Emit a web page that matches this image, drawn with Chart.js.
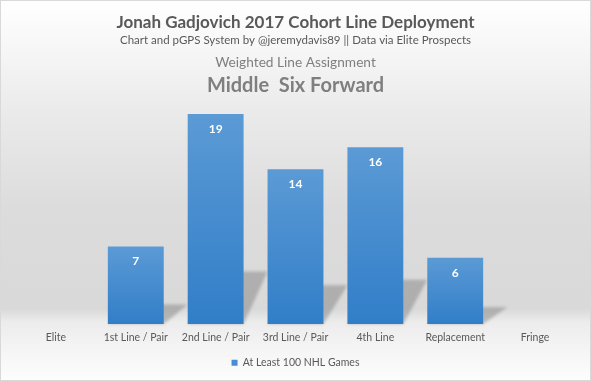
<!DOCTYPE html>
<html>
<head>
<meta charset="utf-8">
<script src="https://cdn.jsdelivr.net/npm/chart.js@4/dist/chart.umd.min.js"></script>
<style>
html,body{margin:0;padding:0;background:#fff;}
#wrap{width:591px;height:381px;position:relative;}
</style>
</head>
<body>
<div id="wrap"><canvas id="c" width="591" height="381"></canvas></div>
<script>
const categories = ["Elite", "1st Line / Pair", "2nd Line / Pair", "3rd Line / Pair", "4th Line", "Replacement", "Fringe"];
const values = [0, 7, 19, 14, 16, 6, 0];
const seriesName = "At Least 100 NHL Games";
const titleLines = [
  "Jonah Gadjovich 2017 Cohort Line Deployment",
  "Chart and pGPS System by @jeremydavis89 || Data via Elite Prospects",
  "Weighted Line Assignment",
  "Middle  Six Forward"
];

const FONT = "Lato, 'Open Sans', sans-serif";

const bgPlugin = {
  id: 'bg',
  beforeDraw(chart) {
    const ctx = chart.ctx, W = chart.width, H = chart.height;
    ctx.save();
    const g = ctx.createLinearGradient(0, 0, 0, H);
    g.addColorStop(0, '#ffffff');
    g.addColorStop(0.12, '#f7f7f7');
    g.addColorStop(0.30, '#eaeaea');
    g.addColorStop(0.55, '#dcdcdc');
    g.addColorStop(0.81, '#d9d9d9');
    g.addColorStop(0.845, '#ececec');
    g.addColorStop(0.92, '#f5f5f5');
    g.addColorStop(1, '#fdfdfd');
    ctx.fillStyle = g;
    ctx.fillRect(0, 0, W, H);
    ctx.strokeStyle = '#d9d9d9';
    ctx.lineWidth = 1;
    ctx.strokeRect(0.5, 0.5, W - 1, H - 1);
    // titles
    ctx.textAlign = 'center';
    ctx.textBaseline = 'alphabetic';
    const cx = W / 2;
    ctx.fillStyle = '#595959';
    ctx.font = "bold 17px " + FONT;
    ctx.fillText(titleLines[0], cx, 28);
    ctx.font = "11.5px " + FONT;
    ctx.fillText(titleLines[1], cx, 44);
    ctx.fillStyle = '#7f7f7f';
    ctx.font = "13.7px " + FONT;
    ctx.fillText(titleLines[2], cx, 67);
    ctx.font = "bold 20px " + FONT;
    ctx.fillText(titleLines[3], cx, 92);
    ctx.restore();
  }
};

const shadowPlugin = {
  id: 'barShadow',
  beforeDatasetsDraw(chart) {
    const ctx = chart.ctx;
    const meta = chart.getDatasetMeta(0);
    ctx.save();
    ctx.filter = 'blur(1.5px)';
    ctx.fillStyle = 'rgba(110,110,110,0.4)';
    meta.data.forEach((bar) => {
      const h = bar.base - bar.y;
      if (h <= 0) return;
      const l = bar.x - bar.width / 2, r = bar.x + bar.width / 2;
      const dx = 24, dy = 0.25 * h;
      ctx.beginPath();
      ctx.moveTo(l, bar.base);
      ctx.lineTo(r, bar.base);
      ctx.lineTo(r + dx, bar.base - dy);
      ctx.lineTo(l + dx, bar.base - dy);
      ctx.closePath();
      ctx.fill();
    });
    ctx.restore();
  }
};

const labelPlugin = {
  id: 'barLabels',
  afterDatasetsDraw(chart) {
    const ctx = chart.ctx;
    const meta = chart.getDatasetMeta(0);
    ctx.save();
    ctx.fillStyle = '#ffffff';
    ctx.font = "bold 12px " + FONT;
    ctx.textAlign = 'center';
    ctx.textBaseline = 'middle';
    meta.data.forEach((bar, i) => {
      if (!values[i]) return;
      ctx.fillText(String(values[i]), bar.x, bar.y + 15);
    });
    ctx.restore();
  }
};

function barGradient(context) {
  const chart = context.chart;
  const y = chart.scales && chart.scales.y;
  if (!chart.chartArea || !y || context.dataIndex === undefined) return '#4a8dd0';
  const v = values[context.dataIndex];
  const top = y.getPixelForValue(v), bottom = y.getPixelForValue(0);
  if (!(bottom > top)) return '#4a8dd0';
  const g = chart.ctx.createLinearGradient(0, top, 0, bottom);
  g.addColorStop(0, '#5b9ad5');
  g.addColorStop(1, '#317ec8');
  return g;
}

new Chart(document.getElementById('c'), {
  type: 'bar',
  data: {
    labels: categories,
    datasets: [{
      label: seriesName,
      data: values,
      backgroundColor: barGradient,
      borderWidth: 0,
      categoryPercentage: 0.7,
      barPercentage: 1.0
    }]
  },
  options: {
    responsive: false,
    animation: false,
    devicePixelRatio: 1,
    layout: { padding: { left: 16, right: 16, top: 103, bottom: 3 } },
    scales: {
      y: { display: false, min: 0, max: 20 },
      x: {
        grid: { display: false, drawTicks: false },
        border: { display: false },
        ticks: { color: '#595959', font: { family: FONT, size: 10.5 }, padding: 7, maxRotation: 0, autoSkip: false }
      }
    },
    plugins: {
      legend: {
        position: 'bottom',
        labels: { color: '#595959', font: { family: FONT, size: 10.5 }, boxWidth: 6, boxHeight: 6, padding: 7 }
      },
      title: { display: false },
      tooltip: { enabled: false }
    }
  },
  plugins: [bgPlugin, shadowPlugin, labelPlugin]
});
</script>
</body>
</html>
